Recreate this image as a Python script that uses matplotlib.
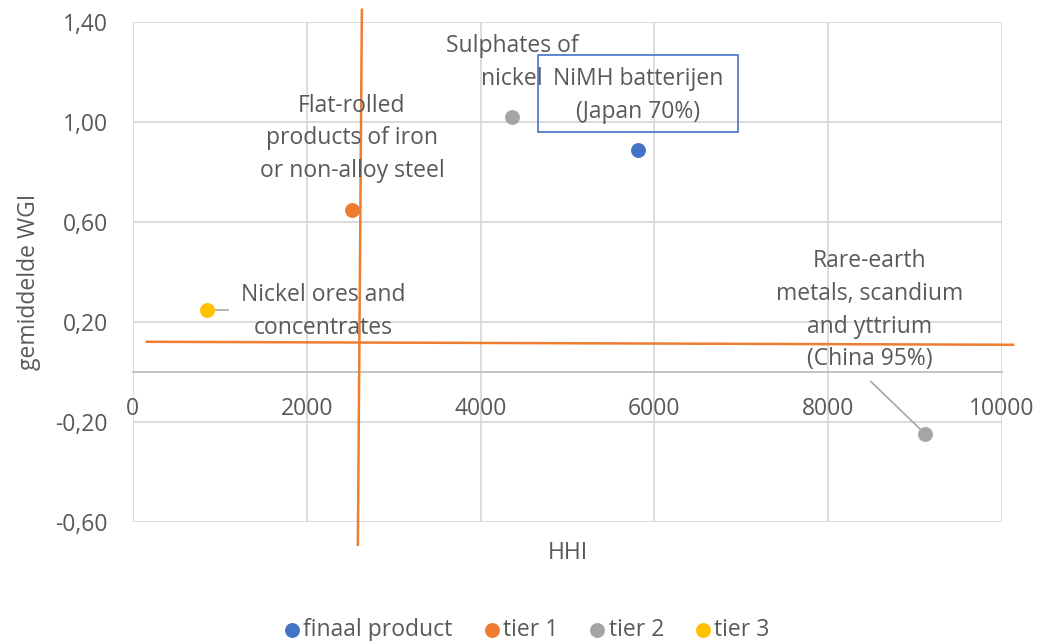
import matplotlib
matplotlib.use("Agg")
import matplotlib.pyplot as plt
from matplotlib.patches import Rectangle

plt.rcParams["font.family"] = ["Open Sans", "DejaVu Sans"]

# Data
series = ["finaal product", "tier 1", "tier 2", "tier 3"]
colors = ["#4472C4", "#ED7D31", "#A5A5A5", "#FFC000"]
hhi = [[5811], [2520], [4361, 9114], [852]]
wgi = [[0.888], [0.648], [1.02, -0.248], [0.248]]

x_ticks = [0, 2000, 4000, 6000, 8000, 10000]
x_ticklabels = ["0", "2000", "4000", "6000", "8000", "10000"]
y_ticks = [-0.6, -0.2, 0.2, 0.6, 1.0, 1.4]
y_ticklabels = ["-0,60", "-0,20", "0,20", "0,60", "1,00", "1,40"]

# threshold lines drawn by hand on the original
vline_x = [2635, 2589]
vline_y = [1.448, -0.692]
hline_x = [161, 10127]
hline_y = [0.12, 0.108]

text_color = "#595959"
grid_color = "#D9D9D9"
fs = 16.5

fig = plt.figure(figsize=(10.46, 6.41), dpi=100)
ax = fig.add_axes([0.127, 0.186, 0.831, 0.780])

for name, c, xs, ys in zip(series, colors, hhi, wgi):
    ax.scatter(xs, ys, s=115, color=c, zorder=4, label=name, linewidths=0)

ax.set_xlim(0, 10000)
ax.set_ylim(-0.6, 1.4)
ax.set_xticks(x_ticks)
ax.set_xticklabels(x_ticklabels)
ax.set_yticks(y_ticks)
ax.set_yticklabels(y_ticklabels)
ax.grid(True, color=grid_color, linewidth=1.3)
ax.set_axisbelow(True)
for s in ["top", "right", "left"]:
    ax.spines[s].set_visible(False)
ax.spines["bottom"].set_position(("data", 0))
ax.spines["bottom"].set_color("#BFBFBF")
ax.spines["bottom"].set_linewidth(1.3)
ax.tick_params(length=0, labelsize=fs, labelcolor=text_color)
ax.tick_params(axis="x", pad=18)
ax.tick_params(axis="y", pad=18)

ax.set_xlabel("HHI", fontsize=fs, color=text_color)
ax.xaxis.set_label_coords(0.5, -0.038)
ax.set_ylabel("gemiddelde WGI", fontsize=fs, color=text_color)
ax.yaxis.set_label_coords(-0.106, 0.48)

# orange quadrant lines
ax.plot(vline_x, vline_y, color="#ED7D31", linewidth=1.8, clip_on=False, zorder=3)
ax.plot(hline_x, hline_y, color="#ED7D31", linewidth=1.8, clip_on=False, zorder=3)

# data labels
lab = dict(fontsize=fs, color=text_color, ha="center", va="center", linespacing=1.48, zorder=5)
ax.text(2520, 0.934, "Flat-rolled\nproducts of iron\nor non-alloy steel", **lab)
ax.text(4361, 1.238, "Sulphates of\nnickel", **lab)
ax.text(5811, 1.106, "NiMH batterijen\n(Japan 70%)", **lab)
ax.text(2186, 0.24, "Nickel ores and\nconcentrates", **lab)
ax.text(8481, 0.246, "Rare-earth\nmetals, scandium\nand yttrium\n(China 95%)", **lab)

ax.add_patch(Rectangle((4660, 0.96), 2300, 0.308, fill=False, edgecolor="#4472C4",
                       linewidth=1.2, zorder=5, clip_on=False))

# leader lines
ax.plot([950, 1100], [0.248, 0.248], color="#A5A5A5", linewidth=1.2, zorder=3)
ax.plot([8493, 9114], [-0.04, -0.248], color="#A5A5A5", linewidth=1.2, zorder=3)

fig.legend(loc="lower center", bbox_to_anchor=(0.502, -0.034), ncol=4, frameon=False,
           fontsize=fs, labelcolor=text_color, handletextpad=0.0, handlelength=1.0,
           columnspacing=1.2, markerscale=1.0)

fig.savefig("out.png", dpi=100)
